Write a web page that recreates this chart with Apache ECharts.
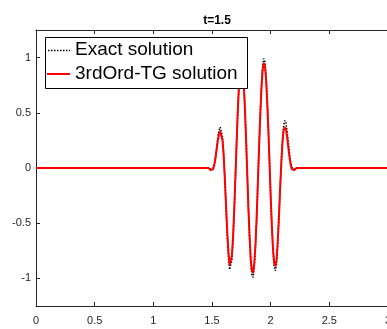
<!DOCTYPE html>
<html><head><meta charset="utf-8">
<script src="https://cdn.jsdelivr.net/npm/echarts@6/dist/echarts.min.js"></script>
<style>html,body{margin:0;padding:0;background:#fff}#c{width:387px;height:329px}</style>
</head><body><div id="c"></div>
<script>
const titleText = 't=1.5';
const seriesNames = ['Exact solution', '3rdOrd-TG solution'];
const xTicks = [0, 0.5, 1, 1.5, 2, 2.5, 3];
const yTicks = [-1, -0.5, 0, 0.5, 1];
const xValues = [0,
 1.45,1.46,1.47,1.48,1.49,1.50,1.51,1.52,1.53,1.54,1.55,1.56,1.57,1.58,1.59,
 1.60,1.61,1.62,1.63,1.64,1.65,1.66,1.67,1.68,1.69,1.70,1.71,1.72,1.73,1.74,
 1.75,1.76,1.77,1.78,1.79,1.80,1.81,1.82,1.83,1.84,1.85,1.86,1.87,1.88,1.89,
 1.90,1.91,1.92,1.93,1.94,1.95,1.96,1.97,1.98,1.99,2.00,2.01,2.02,2.03,2.04,
 2.05,2.06,2.07,2.08,2.09,2.10,2.11,2.12,2.13,2.14,2.15,2.16,2.17,2.18,2.19,
 2.20,2.21,2.22,2.23,2.24,2.25, 3];
const exactValues = [0,
 0,0,0,-0.01,-0.01,-0.01,0.00,0.04,0.10,0.19,0.28,0.34,0.37,0.36,0.28,
 0.12,-0.11,-0.37,-0.61,-0.80,-0.92,-0.92,-0.83,-0.64,-0.38,-0.07,0.24,0.54,0.77,0.93,
 0.99,0.95,0.80,0.57,0.28,-0.04,-0.36,-0.64,-0.85,-0.97,-0.99,-0.91,-0.73,-0.48,-0.17,
 0.16,0.46,0.72,0.90,0.99,0.97,0.85,0.64,0.37,0.06,-0.26,-0.54,-0.76,-0.90,-0.93,
 -0.87,-0.70,-0.47,-0.21,0.04,0.25,0.38,0.43,0.41,0.33,0.24,0.14,0.06,0.01,-0.01,
 -0.01,-0.01,0,0,0,0, 0];
const tgValues = [0,
 0,0,0,-0.01,-0.02,-0.02,-0.01,0.03,0.09,0.17,0.25,0.31,0.33,0.32,0.25,
 0.10,-0.11,-0.35,-0.58,-0.76,-0.88,-0.88,-0.79,-0.61,-0.36,-0.07,0.23,0.52,0.74,0.89,
 0.95,0.91,0.77,0.55,0.27,-0.04,-0.35,-0.61,-0.82,-0.93,-0.95,-0.87,-0.70,-0.46,-0.16,
 0.15,0.44,0.69,0.87,0.95,0.93,0.82,0.61,0.35,0.06,-0.25,-0.52,-0.73,-0.86,-0.89,
 -0.83,-0.67,-0.45,-0.20,0.03,0.22,0.34,0.37,0.35,0.28,0.19,0.10,0.03,-0.01,-0.02,
 -0.02,-0.01,0,0,0,0, 0];

const axisColor = '#262626';
const font = '"Liberation Sans", Arial, Helvetica, sans-serif';
const chart = echarts.init(document.getElementById('c'), null, {renderer: 'canvas'});
const baseAxis = {
  axisLine: {show: true, onZero: false, lineStyle: {color: axisColor, width: 1}},
  axisTick: {show: true, inside: true, length: 4, lineStyle: {color: axisColor}},
  splitLine: {show: false},
  axisLabel: {color: axisColor, fontSize: 11, fontFamily: font}
};
const legendTextStyle = {fontSize: 19, fill: '#000', fontFamily: font, verticalAlign: 'middle', align: 'left'};
chart.setOption({
  animation: false,
  backgroundColor: '#fff',
  title: {text: titleText, left: 212, textAlign: 'center', top: 10,
    textStyle: {fontSize: 12, fontWeight: 'bold', color: '#000', fontFamily: font}},
  grid: {left: 36, top: 30, width: 352, bottom: 23, containLabel: false, outerBoundsMode: 'none'},
  xAxis: [
    Object.assign({}, baseAxis, {type: 'value', min: 0, max: 3, interval: 0.5, position: 'bottom',
      axisLabel: Object.assign({}, baseAxis.axisLabel, {margin: 9})}),
    Object.assign({}, baseAxis, {type: 'value', min: 0, max: 3, interval: 0.5, position: 'top',
      axisLabel: {show: false}})
  ],
  yAxis: [
    Object.assign({}, baseAxis, {type: 'value', min: -1.25, max: 1.25,
      axisTick: Object.assign({}, baseAxis.axisTick, {customValues: yTicks}),
      axisLabel: Object.assign({}, baseAxis.axisLabel, {customValues: yTicks, margin: 5})})
  ],
  series: [
    {name: seriesNames[0], type: 'line', symbol: 'none', xAxisIndex: 0,
     data: xValues.map((x, i) => [x, exactValues[i]]),
     lineStyle: {color: '#000', width: 1.5, type: [1.5, 1.5]}, itemStyle: {color: '#000'}, z: 2},
    {name: seriesNames[1], type: 'line', symbol: 'none', xAxisIndex: 0,
     data: xValues.map((x, i) => [x, tgValues[i]]),
     lineStyle: {color: '#ff0000', width: 2}, itemStyle: {color: '#ff0000'}, z: 3}
  ],
  graphic: [
    {type: 'rect', left: 45, top: 37, z: 100,
     shape: {width: 202, height: 51},
     style: {fill: '#fff', stroke: '#000', lineWidth: 1}},
    {type: 'line', z: 101, shape: {x1: 48, y1: 50.5, x2: 70, y2: 50.5},
     style: {stroke: '#000', lineWidth: 1.5, lineDash: [1.5, 1.5]}},
    {type: 'text', z: 101, x: 75, y: 50, style: Object.assign({text: seriesNames[0]}, legendTextStyle)},
    {type: 'line', z: 101, shape: {x1: 47, y1: 74, x2: 70, y2: 74},
     style: {stroke: '#ff0000', lineWidth: 2}},
    {type: 'text', z: 101, x: 75, y: 74, style: Object.assign({text: seriesNames[1]}, legendTextStyle)}
  ]
});
</script></body></html>
